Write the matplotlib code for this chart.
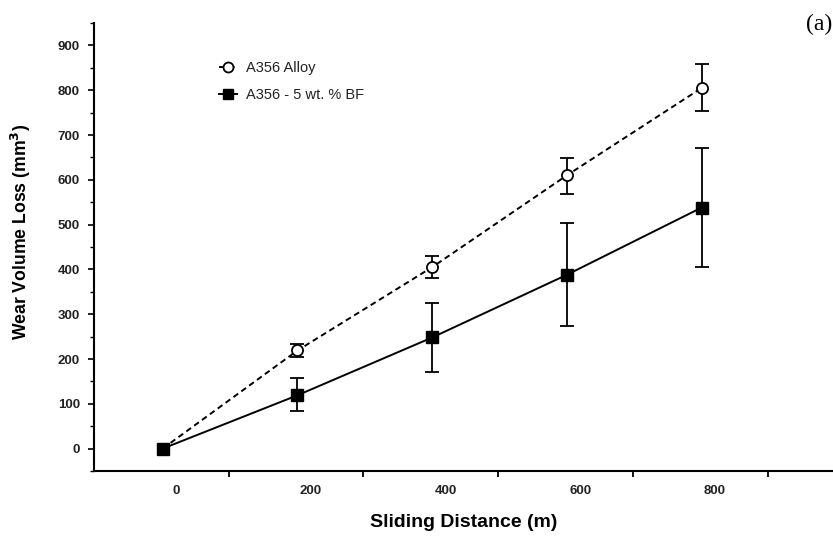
import matplotlib
matplotlib.use("Agg")
import matplotlib.pyplot as plt
from matplotlib.ticker import FixedLocator, MultipleLocator

plt.rcParams['font.family'] = ['Liberation Sans', 'DejaVu Sans']

# Data (x positions as plotted against the axis labels)
distance = [-20, 180, 380, 580, 780]
alloy = [0, 219, 405, 610, 805]
alloy_err_hi = [0, 15, 24, 39, 54]
alloy_err_lo = [0, 14, 25, 41, 52]
bf = [0, 119, 248, 388, 538]
bf_err_hi = [0, 39, 76, 116, 134]
bf_err_lo = [0, 36, 78, 114, 132]

xtick_labels = [0, 200, 400, 600, 800]
xtick_marks = [78, 278, 478, 678, 878]

fig = plt.figure(figsize=(8.33, 5.39), dpi=100)
ax = fig.add_axes([94/833, 1 - 471/539, (833 - 94)/833, (471 - 23)/539])

ax.errorbar(distance[1:], alloy[1:], yerr=[alloy_err_lo[1:], alloy_err_hi[1:]],
            fmt='none', ecolor='black', elinewidth=1.3, capsize=5, capthick=1.3, zorder=2)
ax.errorbar(distance[1:], bf[1:], yerr=[bf_err_lo[1:], bf_err_hi[1:]],
            fmt='none', ecolor='black', elinewidth=1.3, capsize=5, capthick=1.3, zorder=2)

ax.plot(distance, alloy, linestyle=(0, (3, 2)), color='black', linewidth=1.4,
        marker='o', markersize=8, markerfacecolor='white', markeredgecolor='black',
        markeredgewidth=1.3, label='A356 Alloy', zorder=3)
ax.plot(distance, bf, linestyle='-', color='black', linewidth=1.4,
        marker='s', markersize=8, markerfacecolor='black', markeredgecolor='black',
        label='A356 - 5 wt. % BF', zorder=4)

ax.set_xlim(-122, 975)
ax.set_ylim(-50, 950)

ax.spines['top'].set_visible(False)
ax.spines['right'].set_visible(False)
ax.spines['left'].set_linewidth(1.5)
ax.spines['bottom'].set_linewidth(1.5)

ax.xaxis.set_major_locator(FixedLocator(xtick_labels))
ax.set_xticklabels([str(v) for v in xtick_labels], fontsize=9.5, fontweight='bold', color='#222222')
ax.tick_params(axis='x', which='major', length=0, pad=10)
ax.xaxis.set_minor_locator(FixedLocator(xtick_marks))
ax.tick_params(axis='x', which='minor', length=4, width=1.3, direction='out')

ax.set_yticks(range(0, 901, 100))
ax.yaxis.set_minor_locator(MultipleLocator(50))
for lbl in ax.get_yticklabels():
    lbl.set_fontsize(9.5)
    lbl.set_fontweight('bold')
    lbl.set_color('#222222')
ax.tick_params(axis='y', which='major', length=4, width=1.2, direction='out', pad=6)
ax.tick_params(axis='y', which='minor', length=3, width=1.0, direction='out')

ax.set_xlabel('Sliding Distance (m)', fontsize=14, fontweight='bold')
ax.xaxis.set_label_coords((464 - 94) / (833 - 94), -(514 - 471) / 448)
ax.set_ylabel('Wear Volume Loss (mm$^\\mathbf{3}$)', fontsize=12.7, fontweight='bold')
ax.yaxis.set_label_coords(-(94 - 33) / (833 - 94), 1 - (232 - 23) / 448)

leg = ax.legend(loc='upper left', bbox_to_anchor=(0.152, 0.945), frameon=False,
                fontsize=10.5, handlelength=1.2, handletextpad=0.6, labelspacing=0.9,
                markerscale=0.9)
for t in leg.get_texts():
    t.set_color('#222222')

fig.text(0.999, 0.955, '(a)', fontsize=17, family='Liberation Serif', ha='right', va='center')

fig.savefig('out.png', dpi=100)
